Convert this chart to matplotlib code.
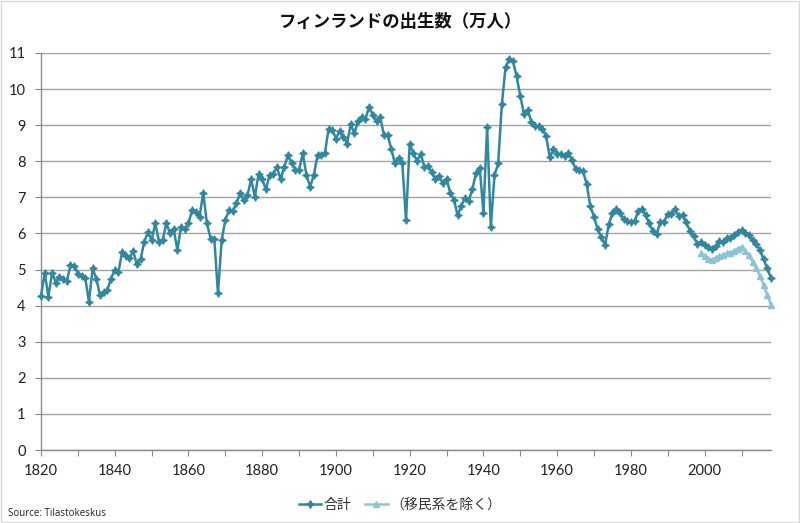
import matplotlib
matplotlib.use("Agg")
import matplotlib.pyplot as plt
from matplotlib.patches import Rectangle
from matplotlib.lines import Line2D

# ---- data (万人) ----
years = list(range(1820, 2019))
total = [
    4.27, 4.91, 4.25, 4.91, 4.64, 4.80, 4.75, 4.68, 5.12, 5.10,   # 1820s
    4.89, 4.83, 4.77, 4.11, 5.03, 4.75, 4.29, 4.39, 4.44, 4.75,   # 1830s
    4.99, 4.93, 5.49, 5.37, 5.31, 5.51, 5.15, 5.28, 5.77, 6.03,   # 1840s
    5.82, 6.28, 5.77, 5.82, 6.28, 6.00, 6.11, 5.54, 6.19, 6.11,   # 1850s
    6.28, 6.65, 6.60, 6.46, 7.13, 6.28, 5.86, 5.86, 4.34, 5.82,   # 1860s
    6.37, 6.65, 6.62, 6.83, 7.11, 6.93, 7.06, 7.50, 7.02, 7.64,   # 1870s
    7.50, 7.22, 7.62, 7.66, 7.83, 7.50, 7.85, 8.17, 7.96, 7.76,   # 1880s
    7.76, 8.22, 7.62, 7.29, 7.62, 8.17, 8.17, 8.22, 8.90, 8.88,   # 1890s
    8.63, 8.84, 8.68, 8.49, 9.02, 8.78, 9.11, 9.23, 9.17, 9.51,   # 1900s
    9.28, 9.11, 9.23, 8.73, 8.74, 8.34, 7.94, 8.10, 7.94, 6.37,   # 1910s
    8.49, 8.22, 8.01, 8.20, 7.84, 7.87, 7.70, 7.50, 7.58, 7.39,   # 1920s
    7.52, 7.12, 6.94, 6.50, 6.77, 6.99, 6.89, 7.23, 7.67, 7.82,   # 1930s
    6.58, 8.96, 6.17, 7.61, 7.94, 9.58, 10.61, 10.82, 10.78, 10.35,  # 1940s
    9.81, 9.31, 9.43, 9.09, 8.98, 8.97, 8.89, 8.70, 8.11, 8.33,   # 1950s
    8.21, 8.20, 8.15, 8.23, 8.04, 7.79, 7.77, 7.73, 7.37, 6.75,   # 1960s
    6.46, 6.11, 5.89, 5.68, 6.25, 6.57, 6.68, 6.57, 6.40, 6.34,   # 1970s
    6.31, 6.35, 6.61, 6.69, 6.51, 6.28, 6.06, 5.98, 6.33, 6.33,   # 1980s
    6.55, 6.54, 6.67, 6.48, 6.52, 6.31, 6.07, 5.93, 5.71, 5.76,   # 1990s
    5.67, 5.62, 5.56, 5.66, 5.78, 5.77, 5.88, 5.87, 5.95, 6.04,   # 2000s
    6.10, 6.00, 5.95, 5.81, 5.72, 5.55, 5.28, 5.03, 4.76,         # 2010s
]
years_native = list(range(1999, 2019))
native = [5.45, 5.38, 5.30, 5.26, 5.33, 5.37, 5.40, 5.45, 5.47, 5.52,
          5.58, 5.62, 5.52, 5.40, 5.22, 5.05, 4.82, 4.56, 4.30, 4.02]

label_total = "合計"
label_native = "（移民系を除く）"
title = "フィンランドの出生数（万人）"
source = "Source: Tilastokeskus"
yticks = list(range(0, 12))
xticks_major = list(range(1820, 2011, 10))
xtick_labels = [str(y) if (y - 1820) % 20 == 0 else "" for y in xticks_major]

# ---- style ----
dark = "#31879F"
light = "#8CC4D6"
grid_c = "#A3A3A3"
axis_c = "#8C8C8C"
cjk = ["Noto Sans CJK JP", "DejaVu Sans"]

plt.rcParams["font.family"] = ["Lato", "DejaVu Sans"]

fig = plt.figure(figsize=(8, 5.23), dpi=100)
fig.patch.set_facecolor("white")
ax = fig.add_axes([41 / 800, 73 / 523, 730 / 800, 397 / 523])

star = (4, 1, 0)
ax.plot(years, total, color=dark, lw=1.8, marker=star, ms=5.5,
        mec=dark, mfc=dark, mew=0.8, label=label_total, zorder=3,
        clip_on=False)
ax.plot(years_native, native, color=light, lw=1.8, marker="^", ms=4.5,
        mec=light, mfc=light, label=label_native, zorder=2, clip_on=False)

ax.set_xlim(1820, 2018)
ax.set_ylim(0, 11)
ax.set_yticks(yticks)
ax.set_xticks(xticks_major)
ax.set_xticklabels(xtick_labels)

ax.grid(axis="y", color=grid_c, lw=1.0)
ax.set_axisbelow(True)
for s in ["top", "right"]:
    ax.spines[s].set_visible(False)
for s in ["left", "bottom"]:
    ax.spines[s].set_color(axis_c)
    ax.spines[s].set_linewidth(1.0)
ax.tick_params(axis="y", length=4, color=axis_c, pad=7, labelsize=10.5,
               labelcolor="#222222")
ax.tick_params(axis="x", length=4, color=axis_c, pad=6, labelsize=10.5,
               labelcolor="#222222")

fig.text(0.5, 1 - 22 / 523, title, ha="center", va="center",
         fontsize=12.5, fontweight="bold", family=cjk, color="#111111")

handles = [
    Line2D([], [], color=dark, lw=1.8, marker=star, ms=5.5, mfc=dark, mec=dark),
    Line2D([], [], color=light, lw=1.8, marker="^", ms=4.5, mfc=light, mec=light),
]
leg = fig.legend(handles, [label_total, label_native], loc="center",
                 bbox_to_anchor=(0.5, 1 - 505 / 523), ncol=2, frameon=False,
                 handlelength=1.6, handletextpad=0.2, columnspacing=1.0,
                 prop={"family": cjk, "size": 10})
for t in leg.get_texts():
    t.set_color("#333333")

fig.text(8 / 800, 1 - 513 / 523, source, ha="left", va="center",
         fontsize=7, color="#222222", family=["Open Sans", "DejaVu Sans"])

fig.patches.append(Rectangle((0.001, 0.001), 0.998, 0.998,
                             transform=fig.transFigure, fill=False,
                             edgecolor="#D9D9D9", lw=1.0))

fig.savefig("out.png", dpi=100)
